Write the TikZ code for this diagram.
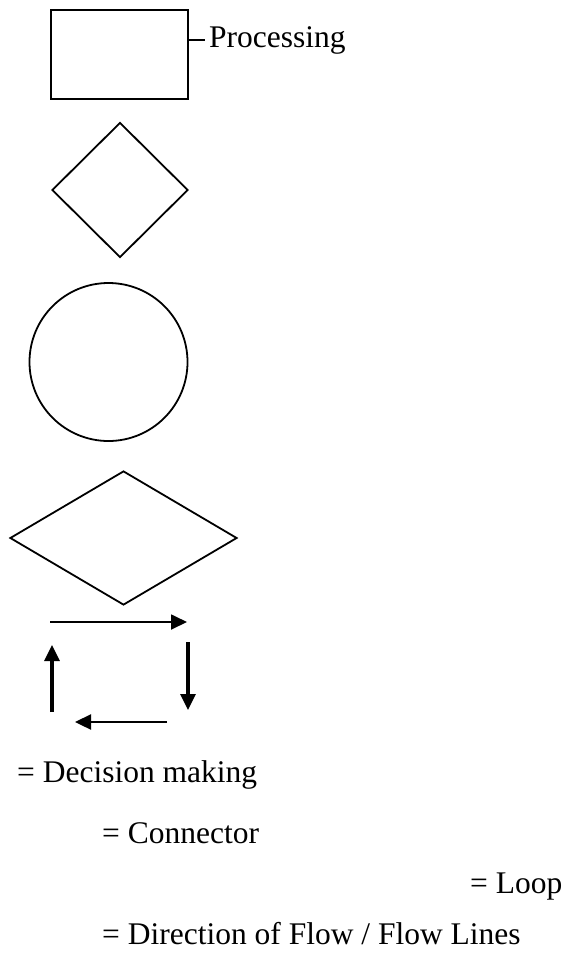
\documentclass[tikz,border=0pt]{standalone}
\usepackage{fontspec}
\setmainfont{Liberation Serif}
\usepackage{tikz}
\usetikzlibrary{arrows.meta,shapes.geometric,positioning}

\begin{document}
\begin{tikzpicture}[x=1pt,y=-1pt,
    shape line/.style={draw,line width=1.8pt,inner sep=0pt},
    flow/.style={-{Triangle[length=16pt,width=15pt]}},
    legend/.style={anchor=base west,inner sep=0pt,font=\fontsize{31.5}{36}\selectfont}]
  \useasboundingbox (0,0) rectangle (567,956);
  \node[shape line,rectangle,minimum width=137pt,minimum height=89pt] (procbox) at (119.5,54.5) {};
  \node[legend] (proclabel) at (209,47) {Processing};
  \coordinate (proctick) at (205,40);
  \draw[line width=1.5pt] (procbox.east |- proctick) -- (proctick);
  \node[shape line,diamond,minimum width=136pt,minimum height=135pt] (decision) at (120,190) {};
  \node[shape line,circle,minimum size=158pt] (connector) at (108.5,362) {};
  \node[shape line,diamond,minimum width=227pt,minimum height=134pt] (loopdia) at (123.5,538) {};
  \coordinate (topa) at (50,622);
  \coordinate (topb) at (187,622);
  \coordinate (righta) at (188,642);
  \coordinate (rightb) at (188,710);
  \coordinate (bota) at (167,722);
  \coordinate (botb) at (75,722);
  \coordinate (lefta) at (52,712);
  \coordinate (leftb) at (52,645);
  \draw[flow,line width=1.8pt] (topa) -- (topb);
  \draw[flow,line width=3.2pt] (righta) -- (rightb);
  \draw[flow,line width=2.3pt] (bota) -- (botb);
  \draw[flow,line width=3.2pt] (lefta) -- (leftb);
  \node[legend] (decisiontext) at (17,782) {= Decision making};
  \node[legend] (connectortext) at (102,843) {= Connector};
  \node[legend] (looptext) at (470,893) {= Loop};
  \node[legend] (flowtext) at (102,944) {= Direction of Flow / Flow Lines};
\end{tikzpicture}
\end{document}
